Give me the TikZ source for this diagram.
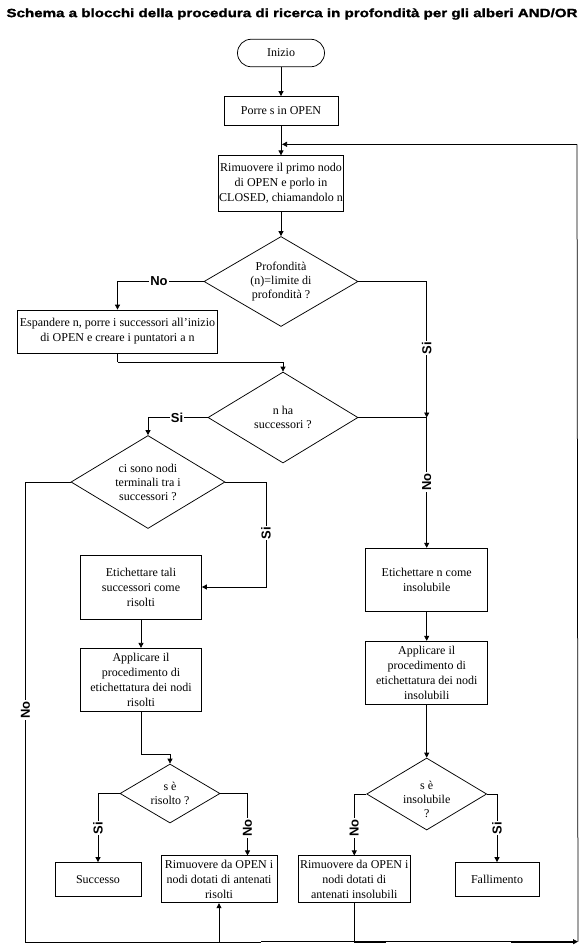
\documentclass[tikz,border=0pt]{standalone}
\usepackage{graphicx}
\usepackage{fontspec}
\setmainfont{Liberation Serif}
\newfontfamily\lblfam{Liberation Sans}
\newfontfamily\titlefam{Liberation Sans Bold}[FakeBold=1.3]
\usetikzlibrary{shapes.geometric,arrows.meta}
\begin{document}
\begin{tikzpicture}[x=1pt,y=-1pt,
  ln/.style={line width=0.75pt},
  box/.style={draw, line width=0.75pt, fill=white, align=center, inner sep=1pt, font=\fontsize{12}{15}\selectfont},
  dia/.style={draw, diamond, line width=0.75pt, inner sep=0pt},
  dtext/.style={align=center, font=\fontsize{12}{14}\selectfont},
  lbl/.style={fill=white, inner sep=1pt, font=\lblfam\bfseries\fontsize{13}{13}\selectfont},
  arr/.style={ln, -{Triangle[length=5pt,width=5pt]}},
  thk/.style={line width=1.8pt},
]
\useasboundingbox (0,0) rectangle (586,951);
\fill[white] (0,0) rectangle (586,951);

% title
\node[font=\titlefam\fontsize{12}{12}\selectfont, inner sep=0pt] (title) at (292,14)
  {\resizebox{571pt}{\height}{Schema a blocchi della procedura di ricerca in profondità per gli alberi AND/OR}};

% main column
\node[box, rounded corners=13.7pt, minimum width=87pt, minimum height=27.5pt] (ini) at (281,53) {Inizio};
\node[box, minimum width=114pt, minimum height=29pt] (por) at (281,111) {Porre s in OPEN};
\node[box, minimum width=124pt, minimum height=55.5pt] (rim) at (281,183.5) {Rimuovere il primo nodo\\di OPEN e porlo in\\CLOSED, chiamandolo n};
\node[dia, minimum width=154pt, minimum height=90pt] (d1) at (281,281.5) {};
\node[dtext] (t1) at (d1.center) {Profondità\\(n)=limite di\\profondità ?};
\node[box, minimum width=200pt, minimum height=43pt] (esp) at (117.5,331.5) {Espandere n, porre i successori all'inizio\\di OPEN e creare i puntatori a n};
\node[dia, minimum width=150pt, minimum height=91pt] (d2) at (283,417.5) {};
\node[dtext] (t2) at (d2.center) {n ha\\successori ?};
\node[dia, minimum width=154pt, minimum height=93pt] (d3) at (148,482) {};
\node[dtext] (t3) at (d3.center) {ci sono nodi\\terminali tra i\\successori ?};

% left column
\node[box, minimum width=121pt, minimum height=64pt] (etr) at (141,587) {Etichettare tali\\successori come\\risolti};
\node[box, minimum width=121pt, minimum height=63.5pt] (apl) at (141,680) {Applicare il\\procedimento di\\etichettatura dei nodi\\risolti};
\node[dia, minimum width=100pt, minimum height=59pt] (d4) at (170,793.5) {};
\node[dtext] (t4) at (d4.center) {s è\\risolto ?};
\node[box, minimum width=86pt, minimum height=34pt] (succ) at (98,879.5) {Successo};
\node[box, minimum width=116pt, minimum height=47pt] (rl) at (219,879.3) {Rimuovere da OPEN i\\nodi dotati di antenati\\risolti};

% right column
\node[box, minimum width=122pt, minimum height=63pt] (etn) at (426.7,579.7) {Etichettare n come\\insolubile};
\node[box, minimum width=122pt, minimum height=63pt] (apr) at (426.7,672.7) {Applicare il\\procedimento di\\etichettatura dei nodi\\insolubili};
\node[dia, minimum width=120pt, minimum height=72pt] (d5) at (426.7,794) {};
\node[dtext] (t5) at (426.7,799) {s è\\insolubile\\?};
\node[box, minimum width=112pt, minimum height=47pt] (rr) at (354.3,879.3) {Rimuovere da OPEN i\\nodi dotati di\\antenati insolubili};
\node[box, minimum width=84pt, minimum height=34pt] (fall) at (497,879.5) {Fallimento};

% coordinates
\coordinate (cTL) at (282,144.3);
\coordinate (cTR) at (577,144.3);
\coordinate (cBR) at (578,941.7);
\coordinate (cB1) at (261,941.7);
\coordinate (cL) at (25.5,942.7);
\coordinate (cM) at (261,942.7);
\coordinate (cRL) at (219,942.7);
\coordinate (cj) at (426.7,417.5);
\coordinate (c3) at (266,482);
\coordinate (c4) at (141,754.3);
\coordinate (c4r) at (247.5,793.5);
\coordinate (cE) at (117.5,362);
\coordinate (cTh1) at (385.5,941.7);
\coordinate (cTh2) at (511,941.7);

% connectors
\draw[arr] (ini) -- (por);
\draw[arr] (por) -- (rim);
\draw[ln] (cBR) -- (cTR);
\draw[arr] (cTR) -- (cTL);
\draw[arr] (rim) -- (d1);
\draw[arr] (d1.west) -| (esp.north);
\draw[arr] (d1.east) -| (cj);
\draw[ln] (d2.east) -- (cj);
\draw[arr] (cj) -- (etn.north);
\draw[ln] (esp.south) -- (cE);
\draw[arr] (cE) -| (d2.north);
\draw[arr] (d2.west) -| (d3.north);
\draw[ln] (d3.east) -- (c3);
\draw[arr] (c3) |- (etr.east);
\draw[ln] (d3.west) -| (cL) -- (cM);
\draw[arr] (cRL) -- (rl.south);
\draw[arr] (etr) -- (apl);
\draw[ln] (apl.south) -- (c4);
\draw[arr] (c4) -| (d4.north);
\draw[arr] (d4.west) -| (succ.north);
\draw[ln] (d4.east) -- (c4r);
\draw[arr] (c4r) -- (c4r |- rl.north);
\draw[arr] (etn) -- (apr);
\draw[arr] (apr) -- (d5);
\draw[arr] (d5.west) -| (rr.north);
\draw[arr] (d5.east) -| (fall.north);
\draw[ln] (rr.south) -- (rr.south |- cB1);
\draw[arr] (cB1) -- (cBR);
\draw[thk] (rr.south |- cB1) -- (cTh1);
\draw[thk] (cTh2) -- ([xshift=-4pt]cBR);

% labels
\node[lbl] (lNo1) at (159,281.5) {No};
\node[lbl, rotate=90] (lSi1) at (426.7,348) {Si};
\node[lbl] (lSi2) at (177,417.5) {Si};
\node[lbl, rotate=90] (lNo2) at (426.7,482) {No};
\node[lbl, rotate=90] (lSi3) at (266,533) {Si};
\node[lbl, rotate=90] (lNo3) at (25.5,710) {No};
\node[lbl, rotate=90] (lSi4) at (98,828) {Si};
\node[lbl, rotate=90] (lNo4) at (247.5,828) {No};
\node[lbl, rotate=90] (lNo5) at (354.3,828) {No};
\node[lbl, rotate=90] (lSi5) at (497,828) {Si};
\end{tikzpicture}
\end{document}
